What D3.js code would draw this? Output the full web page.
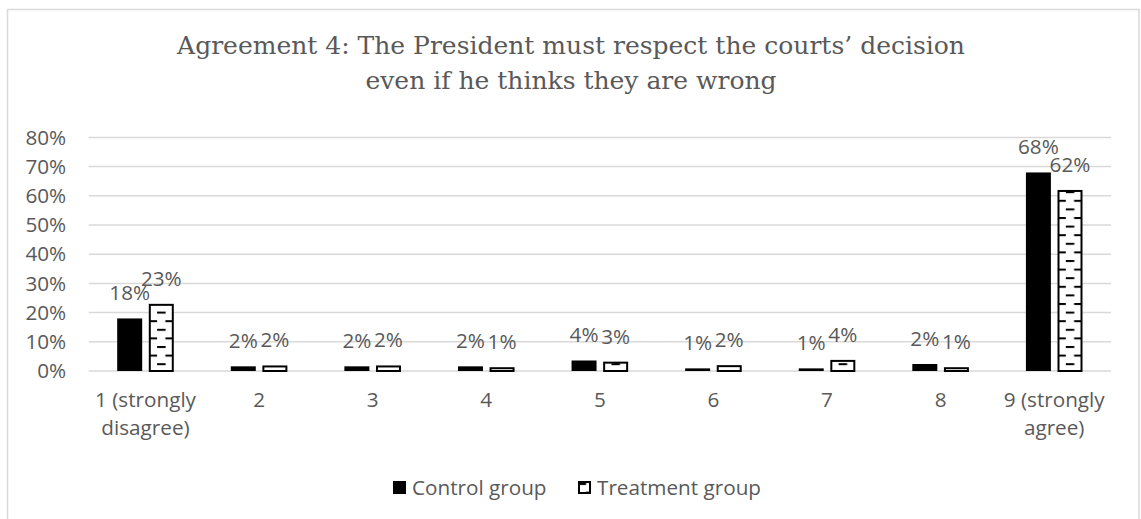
<!DOCTYPE html>
<html>
<head>
<meta charset="utf-8">
<script src="https://cdn.jsdelivr.net/npm/d3@7"></script>
<style>
  html, body { margin: 0; padding: 0; background: #fff; }
  svg { display: block; }
</style>
</head>
<body>
<svg id="chart" width="1141" height="519"></svg>
<script>
// Survey responses on a 1–9 agreement scale, share of each group
const categories = ["1 (strongly disagree)", "2", "3", "4", "5", "6", "7", "8", "9 (strongly agree)"];
const seriesNames = ["Control group", "Treatment group"];
const controlValues = [0.18, 0.016, 0.016, 0.016, 0.036, 0.009, 0.009, 0.024, 0.68];
const treatmentValues = [0.23, 0.019, 0.019, 0.013, 0.032, 0.02, 0.038, 0.013, 0.62];
const yTicks = [0, 0.1, 0.2, 0.3, 0.4, 0.5, 0.6, 0.7, 0.8];
const titleLines = ["Agreement 4: The President must respect the courts’ decision",
                    "even if he thinks they are wrong"];

const svg = d3.select("#chart");
const textColor = "#595959";
const gridColor = "#d9d9d9";
const bodyFont = "'Open Sans', sans-serif";
const bodySize = 20.7;

// Outer chart frame
svg.append("rect")
  .attr("x", 7.5).attr("y", 9.5).attr("width", 1131.5).attr("height", 530)
  .attr("fill", "#fff").attr("stroke", gridColor).attr("stroke-width", 1.5);

// Dashed-horizontal fill for the treatment bars
const defs = svg.append("defs");
const pat = defs.append("pattern")
  .attr("id", "dashHorz").attr("patternUnits", "userSpaceOnUse")
  .attr("width", 16.6).attr("height", 17.2).attr("x", 2).attr("y", 2);
pat.append("rect").attr("width", 16.6).attr("height", 17.2).attr("fill", "#fff");
pat.append("rect").attr("x", 0).attr("y", 0).attr("width", 8.5).attr("height", 2).attr("fill", "#000");
pat.append("rect").attr("x", 8.3).attr("y", 8.6).attr("width", 8.3).attr("height", 2).attr("fill", "#000");

const plot = { left: 88.7, right: 1111, top: 137.4, bottom: 371 };

const x = d3.scaleBand().domain(categories).range([plot.left, plot.right]).padding(0);
const xSub = d3.scaleBand().domain(seriesNames).range([0, x.bandwidth()])
  .paddingInner(0.209).paddingOuter(0.902);
const y = d3.scaleLinear().domain([0, 0.8]).range([plot.bottom, plot.top]);

// Title
const title = svg.append("text")
  .attr("text-anchor", "middle")
  .attr("font-family", "'DejaVu Serif', serif")
  .attr("font-size", 25)
  .attr("fill", textColor);
titleLines.forEach((line, i) => {
  title.append("tspan").attr("x", 571).attr("y", 54 + i * 35).text(line);
});

// Gridlines
svg.append("g").selectAll("line").data(yTicks).join("line")
  .attr("x1", plot.left).attr("x2", plot.right)
  .attr("y1", d => y(d)).attr("y2", d => y(d))
  .attr("stroke", gridColor).attr("stroke-width", 1.5);

// Y axis labels
const yAxis = svg.append("g")
  .attr("transform", `translate(${plot.left - 10},0)`)
  .call(d3.axisLeft(y).tickValues(yTicks).tickFormat(d3.format(".0%")).tickSize(0).tickPadding(12.5));
yAxis.select(".domain").remove();
yAxis.selectAll("text")
  .attr("font-family", bodyFont).attr("font-size", bodySize).attr("fill", textColor);

// X axis labels, wrapped before the parenthesis
const xAxis = svg.append("g")
  .attr("transform", `translate(0,${plot.bottom})`)
  .call(d3.axisBottom(x).tickSize(0).tickPadding(0));
xAxis.select(".domain").remove();
xAxis.selectAll("text")
  .attr("font-family", bodyFont).attr("font-size", bodySize).attr("fill", textColor)
  .attr("dy", null).attr("y", 0)
  .each(function(d) {
    const t = d3.select(this);
    const words = d.split(" ");
    const parts = words.length > 2 ? [words.slice(0, 2).join(" "), words.slice(2).join(" ")] : [d];
    t.text(null);
    parts.forEach((p, i) => {
      t.append("tspan").attr("x", 0).attr("y", 36 + i * 28).text(p);
    });
  });

// Bars
const rows = categories.map((c, i) => ({ cat: c, values: [controlValues[i], treatmentValues[i]] }));
const groups = svg.append("g").selectAll("g").data(rows).join("g")
  .attr("transform", d => `translate(${x(d.cat)},0)`);

groups.selectAll("rect").data(d => d.values.map((v, j) => ({ v, s: seriesNames[j] }))).join("rect")
  .attr("x", d => xSub(d.s) + (d.s === seriesNames[1] ? 1 : 0))
  .attr("width", d => xSub.bandwidth() - (d.s === seriesNames[1] ? 2 : 0))
  .attr("y", d => y(d.v) + (d.s === seriesNames[1] ? 1 : 0))
  .attr("height", d => Math.max(0, plot.bottom - y(d.v) - (d.s === seriesNames[1] ? 1 : 0)))
  .attr("fill", d => d.s === seriesNames[0] ? "#000" : "url(#dashHorz)")
  .attr("stroke", d => d.s === seriesNames[0] ? "none" : "#000")
  .attr("stroke-width", 2);

// Data labels
groups.selectAll("text").data(d => d.values.map((v, j) => ({ v, s: seriesNames[j] }))).join("text")
  .attr("x", d => xSub(d.s) + xSub.bandwidth() / 2)
  .attr("y", d => y(d.v) - 18)
  .attr("text-anchor", "middle")
  .attr("font-family", bodyFont).attr("font-size", bodySize).attr("fill", textColor)
  .text(d => d3.format(".0%")(d.v));

// Legend
const legend = svg.append("g").attr("transform", "translate(393,481)");
const legendItems = [
  { name: seriesNames[0], x: 0, fill: "#000", stroke: "none" },
  { name: seriesNames[1], x: 185, fill: "url(#dashHorz)", stroke: "#000" }
];
legendItems.forEach(it => {
  legend.append("rect").attr("x", it.x + (it.stroke === "none" ? 0 : 1)).attr("y", it.stroke === "none" ? 0 : 1)
    .attr("width", it.stroke === "none" ? 13 : 11).attr("height", it.stroke === "none" ? 13 : 11)
    .attr("fill", it.fill).attr("stroke", it.stroke).attr("stroke-width", 2);
  legend.append("text").attr("x", it.x + 19).attr("y", 14)
    .attr("font-family", bodyFont).attr("font-size", bodySize).attr("fill", textColor)
    .text(it.name);
});
</script>
</body>
</html>
